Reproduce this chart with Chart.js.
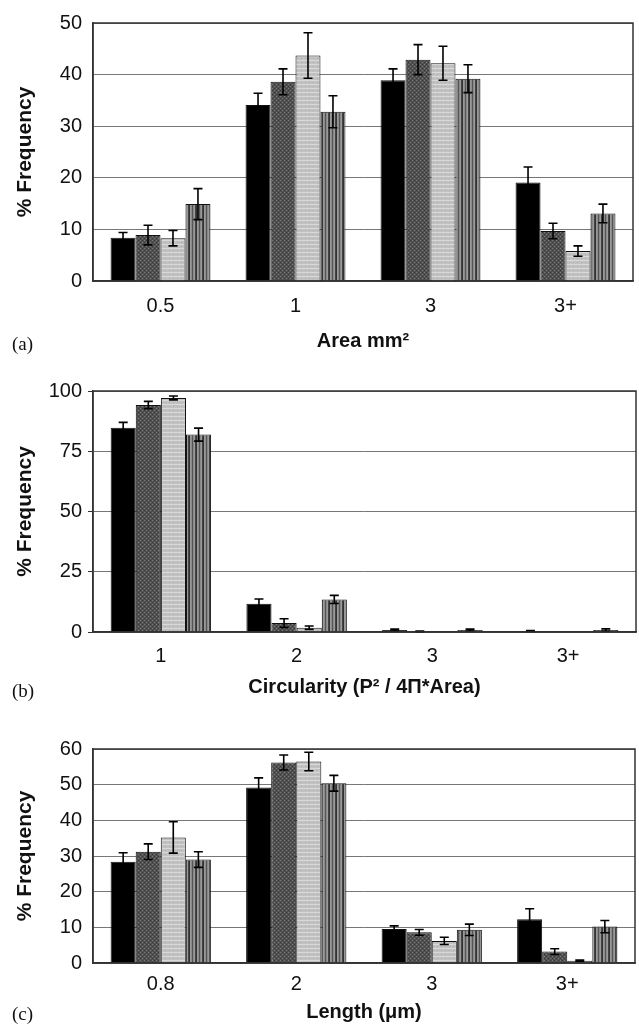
<!DOCTYPE html>
<html>
<head>
<meta charset="utf-8">
<script src="https://cdn.jsdelivr.net/npm/chart.js@4/dist/chart.umd.min.js"></script>
<style>
  body { margin: 0; background: #fff; }
  #page { position: relative; width: 639px; height: 1026px; }
  canvas { position: absolute; left: 0; }
  .tag { position: absolute; left: 12px; font: 19px "Liberation Serif", serif; color: #111; line-height: 20px; }
</style>
</head>
<body>
<div id="page">
  <canvas id="chartArea" width="639" height="353" style="top:0"></canvas>
  <canvas id="chartCirc" width="639" height="339" style="top:360px"></canvas>
  <canvas id="chartLength" width="639" height="324" style="top:700px"></canvas>
  <div class="tag" style="top:334px">(a)</div>
  <div class="tag" style="top:681px">(b)</div>
  <div class="tag" style="top:1004px">(c)</div>
</div>
<script>
// (a) area
const areaLabels = ['0.5', '1', '3', '3+'];
const areaS1 = [8.4, 34.1, 38.9, 19.1];
const areaS2 = [8.9, 38.6, 42.9, 9.7];
const areaS3 = [8.3, 43.7, 42.2, 5.8];
const areaS4 = [14.9, 32.8, 39.2, 13.1];
const areaE1 = [1.0, 2.3, 2.2, 3.0];
const areaE2 = [1.9, 2.5, 2.9, 1.5];
const areaE3 = [1.5, 4.4, 3.3, 1.0];
const areaE4 = [3.0, 3.1, 2.7, 1.8];

// (b) circularity
const circLabels = ['1', '2', '3', '3+'];
const circS1 = [84.8, 11.7, 0.8, 0.4];
const circS2 = [94.2, 3.7, 0.2, 0];
const circS3 = [97.1, 1.8, 0, 0];
const circS4 = [81.9, 13.5, 0.8, 0.8];
const circE1 = [2.2, 2.0, 0.4, 0.2];
const circE2 = [1.5, 1.8, 0.2, 0];
const circE3 = [0.8, 0.7, 0, 0];
const circE4 = [2.7, 1.7, 0.4, 0.5];

// (c) length
const lenLabels = ['0.8', '2', '3', '3+'];
const lenS1 = [28.4, 49.2, 9.5, 12.3];
const lenS2 = [31.2, 56.2, 8.6, 3.2];
const lenS3 = [35.2, 56.5, 6.2, 0.6];
const lenS4 = [29.0, 50.4, 9.3, 10.2];
const lenE1 = [2.5, 2.7, 0.9, 2.9];
const lenE2 = [2.2, 2.1, 0.8, 0.8];
const lenE3 = [4.4, 2.6, 1.0, 0.2];
const lenE4 = [2.2, 2.2, 1.6, 1.7];

function makePattern(w, h, draw) {
    const c = document.createElement('canvas');
    c.width = w;
    c.height = h;
    const g = c.getContext('2d');
    draw(g);
    return g.createPattern(c, 'repeat');
}

const fillDark = makePattern(4, 4, g => {
    g.fillStyle = '#505050';
    g.fillRect(0, 0, 4, 4);
    g.fillStyle = '#7c7c7c';
    g.fillRect(0, 0, 1, 1);
    g.fillRect(2, 2, 1, 1);
    g.fillStyle = '#383838';
    g.fillRect(2, 0, 1, 1);
    g.fillRect(0, 2, 1, 1);
});
const fillLight = makePattern(4, 4, g => {
    g.fillStyle = '#c2c2c2';
    g.fillRect(0, 0, 4, 4);
    g.fillStyle = '#d8d8d8';
    g.fillRect(0, 0, 4, 1);
    g.fillStyle = '#adadad';
    g.fillRect(1, 2, 1, 1);
});
const fillStripe = makePattern(7, 1, g => {
    const cols = ['#333', '#999', '#8a8a8a', '#555', '#888', '#9a9a9a', '#444'];
    cols.forEach((col, i) => {
        g.fillStyle = col;
        g.fillRect(i, 0, 1, 1);
    });
});
const fills = ['#000', fillDark, fillLight, fillStripe];

const errorBars = {
    id: 'errorBars',
    afterDatasetsDraw(chart, args, opts) {
        const ctx = chart.ctx;
        const y = chart.scales.y;
        ctx.save();
        ctx.strokeStyle = '#000';
        ctx.lineWidth = 1.6;
        chart.data.datasets.forEach((ds, d) => {
            const meta = chart.getDatasetMeta(d);
            meta.data.forEach((bar, i) => {
                const e = opts.errors[d][i];
                if (!e) return;
                const v = ds.data[i];
                const top = y.getPixelForValue(v + e);
                const bot = y.getPixelForValue(Math.max(v - e, 0));
                ctx.beginPath();
                ctx.moveTo(bar.x, top);
                ctx.lineTo(bar.x, bot);
                ctx.moveTo(bar.x - 4.5, top);
                ctx.lineTo(bar.x + 4.5, top);
                ctx.moveTo(bar.x - 4.5, bot);
                ctx.lineTo(bar.x + 4.5, bot);
                ctx.stroke();
            });
        });
        // frame round the plot area
        const a = chart.chartArea;
        ctx.strokeStyle = '#333';
        ctx.lineWidth = 1.5;
        ctx.strokeRect(a.left, a.top, a.right - a.left, a.bottom - a.top);
        ctx.restore();
    }
};

function drawChart(id, labels, series, errors, opt) {
    return new Chart(document.getElementById(id), {
        type: 'bar',
        data: {
            labels: labels,
            datasets: series.map((s, i) => ({
                data: s,
                backgroundColor: fills[i],
                borderColor: '#111',
                borderWidth: 1,
                categoryPercentage: 0.74,
                barPercentage: 1.0
            }))
        },
        options: {
            responsive: false,
            animation: false,
            devicePixelRatio: 1,
            layout: { padding: { top: opt.top, right: opt.right, left: 0, bottom: 0 } },
            plugins: {
                legend: { display: false },
                tooltip: { enabled: false },
                errorBars: { errors: errors }
            },
            scales: {
                x: {
                    grid: { display: false, drawTicks: false },
                    border: { display: true, color: '#333', width: 1.5 },
                    ticks: { color: '#111', font: { family: 'Liberation Sans', size: 20 }, padding: opt.xPad },
                    title: {
                        display: true,
                        text: opt.title,
                        color: '#111',
                        font: { family: 'Liberation Sans', size: 20, weight: 'bold' },
                        padding: { top: 0, bottom: 0 }
                    },
                    afterFit: s => { s.height = opt.xHeight; }
                },
                y: {
                    min: 0,
                    max: opt.max,
                    grid: { color: '#777', lineWidth: 1, drawTicks: opt.tick > 0, tickLength: opt.tick, tickColor: '#333' },
                    border: { display: true, color: '#333', width: 1.5 },
                    ticks: { stepSize: opt.step, color: '#111', font: { family: 'Liberation Sans', size: 20 }, padding: 11 - opt.tick },
                    title: {
                        display: true,
                        text: '% Frequency',
                        color: '#111',
                        font: { family: 'Liberation Sans', size: 21, weight: 'bold' },
                        padding: { top: 13, bottom: 0 }
                    },
                    afterFit: s => { s.width = 93; }
                }
            }
        },
        plugins: [errorBars]
    });
}

drawChart('chartArea', areaLabels,
    [areaS1, areaS2, areaS3, areaS4], [areaE1, areaE2, areaE3, areaE4],
    { title: 'Area mm²', max: 50, step: 10, tick: 0, top: 13, right: 6, xPad: 13, xHeight: 72 });

drawChart('chartCirc', circLabels,
    [circS1, circS2, circS3, circS4], [circE1, circE2, circE3, circE4],
    { title: 'Circularity (P² / 4Π*Area)', max: 100, step: 25, tick: 5, top: 31, right: 3, xPad: 12, xHeight: 67 });

drawChart('chartLength', lenLabels,
    [lenS1, lenS2, lenS3, lenS4], [lenE1, lenE2, lenE3, lenE4],
    { title: 'Length (μm)', max: 60, step: 10, tick: 0, top: 49, right: 4, xPad: 9.2, xHeight: 61 });
</script>
</body>
</html>
